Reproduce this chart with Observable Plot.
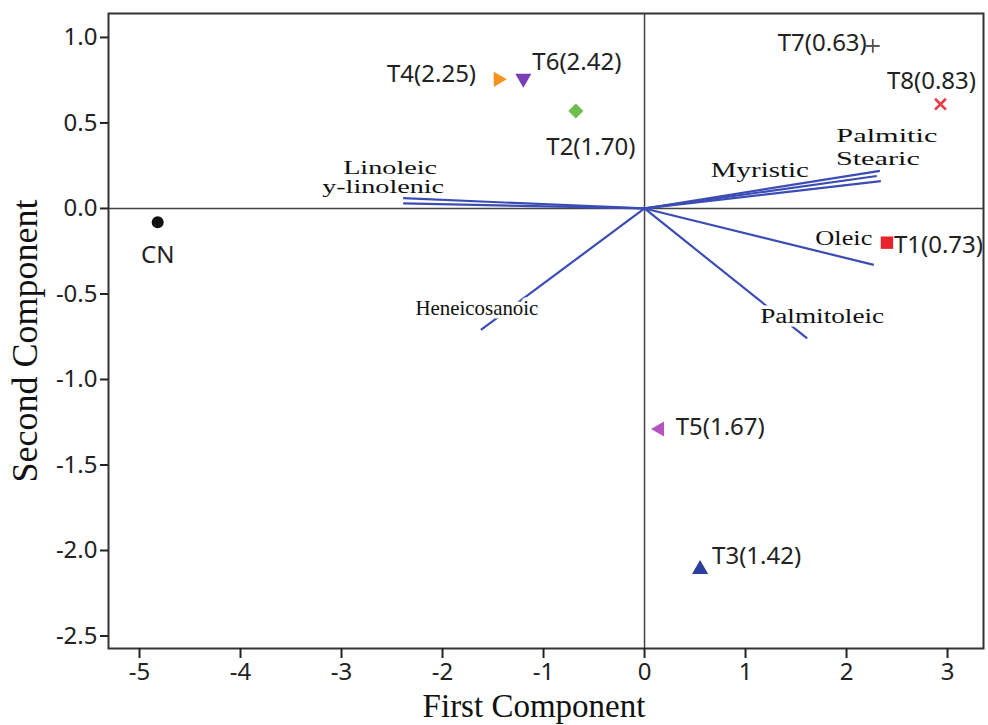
<!DOCTYPE html>
<html><head><meta charset="utf-8">
<script src="https://cdn.jsdelivr.net/npm/d3@7"></script>
<script src="https://cdn.jsdelivr.net/npm/@observablehq/plot@0.6"></script>
<style>html,body{margin:0;padding:0;background:#fff} #chart svg{display:block}</style>
</head><body><div id="chart"></div>
<script>
// ---- data ----
const treatments = ["CN","T1","T2","T3","T4","T5","T6","T7","T8"];
const treatmentLabels = ["CN","T1(0.73)","T2(1.70)","T3(1.42)","T4(2.25)","T5(1.67)","T6(2.42)","T7(0.63)","T8(0.83)"];
const scoreX = [-4.82, 2.40, -0.68, 0.55, -1.45, 0.15, -1.20, 2.26, 2.93];
const scoreY = [-0.08, -0.20, 0.57, -2.11, 0.755, -1.29, 0.76, 0.95, 0.61];
const acids = ["Linoleic","y-linolenic","Myristic","Palmitic","Stearic","Oleic","Palmitoleic","Heneicosanoic"];
const loadingX = [-2.39, -2.39, 2.30, 2.33, 2.34, 2.27, 1.61, -1.62];
const loadingY = [0.06, 0.03, 0.19, 0.22, 0.16, -0.33, -0.76, -0.71];
const xTicks = [-5,-4,-3,-2,-1,0,1,2,3];
const yTicks = [1.0,0.5,0.0,-0.5,-1.0,-1.5,-2.0,-2.5];

// ---- styles / layout (not data) ----
const pointStyle = {
  CN: {symbol:"circle",   fill:"#111",    r:6},
  T1: {symbol:"square",   fill:"#e8232b", r:7},
  T2: {symbol:"diamond2", fill:"#6cbf4c", r:6.8},
  T3: {symbol:"triangle", fill:"#2b3f9f", r:6},
  T4: {symbol:"triangle", fill:"#f6921e", r:5.6, rotate:90},
  T5: {symbol:"triangle", fill:"#b455bf", r:5.6, rotate:-90},
  T6: {symbol:"triangle", fill:"#7a3fb5", r:6,   rotate:180},
  T7: {symbol:"plus",  stroke:"#555",    r:4.5, strokeWidth:1.8},
  T8: {symbol:"times", stroke:"#ec3b4b", r:5,   strokeWidth:2.6}
};
const pointLabelLayout = {
  CN: {anchor:"middle", dx:0,   dy:33},
  T1: {anchor:"start",  dx:7,   dy:3},
  T2: {anchor:"middle", dx:15,  dy:36},
  T3: {anchor:"start",  dx:12,  dy:-13},
  T4: {anchor:"end",    dx:-22, dy:-5},
  T5: {anchor:"start",  dx:16,  dy:-2},
  T6: {anchor:"start",  dx:9,   dy:-16},
  T7: {anchor:"end",    dx:-6,  dy:-3},
  T8: {anchor:"middle", dx:-9,  dy:-23}
};
const vecLabelLayout = {
  "Linoleic":      {dx:-13,  dy:-30, w:94,  size:19},
  "y-linolenic":   {dx:-20,  dy:-16, w:122, size:19},
  "Myristic":      {dx:-117, dy:-5,  w:98,  size:20},
  "Palmitic":      {dx:7,    dy:-35, w:101, size:19},
  "Stearic":       {dx:-3,   dy:-22, w:84,  size:19},
  "Oleic":         {dx:-30,  dy:-26, w:57,  size:20},
  "Palmitoleic":   {dx:15,   dy:-22, w:124, size:20, halo:true},
  "Heneicosanoic": {dx:-4,   dy:-22, w:123, size:21, halo:true}
};

const points = treatments.map((t,i)=>({id:t, label:treatmentLabels[i], x:scoreX[i], y:scoreY[i]}));
const vectors = acids.map((a,i)=>({name:a, x:loadingX[i], y:loadingY[i]}));

const serif = "'Liberation Serif', 'Times New Roman', serif";
const sans = "'Noto Sans', 'DejaVu Sans', sans-serif";

const marks = [
  Plot.ruleX([0], {stroke:"#444", strokeWidth:1.5}),
  Plot.ruleY([0], {stroke:"#444", strokeWidth:1.5}),
  Plot.link(vectors, {x1:0, y1:0, x2:"x", y2:"y", stroke:"#3b4db5", strokeWidth:2.2})
];
for (const v of vectors) {
  const L = vecLabelLayout[v.name];
  const o = {x:"x", y:"y", text:"name", dx:L.dx, dy:L.dy,
    textAnchor:"middle", lineAnchor:"middle", fontFamily:serif, fontSize:L.size, fill:"#111"};
  if (L.halo) { o.stroke = "white"; o.strokeWidth = 7; }
  marks.push(Plot.text([v], o));
}
for (const p of points) {
  const s = pointStyle[p.id];
  const opts = {x:"x", y:"y", symbol:s.symbol, r:s.r};
  if (s.rotate) opts.rotate = s.rotate;
  if (s.fill) { opts.fill = s.fill; opts.stroke = "none"; }
  else { opts.stroke = s.stroke; opts.fill = "none"; opts.strokeWidth = s.strokeWidth; }
  marks.push(Plot.dot([p], opts));
  const L = pointLabelLayout[p.id];
  marks.push(Plot.text([p], {x:"x", y:"y", text:"label", dx:L.dx, dy:L.dy,
    textAnchor:L.anchor, lineAnchor:"middle", fontFamily:sans, fontSize:24, fill:"#222"}));
}
marks.push(
  Plot.frame({stroke:"#333", strokeWidth:2}),
  Plot.axisX(xTicks, {tickSize:10, tickPadding:4, tickFormat:d=>String(d), label:null,
    fontFamily:sans, fontSize:24, color:"#222", strokeWidth:2}),
  Plot.axisY(yTicks, {tickSize:8, tickPadding:3, tickFormat:d=>d.toFixed(1), label:null,
    fontFamily:sans, fontSize:24, color:"#222", strokeWidth:2}),
  Plot.text(["First Component"], {text:d=>d, frameAnchor:"bottom", dx:-12, dy:58,
    textAnchor:"middle", lineAnchor:"middle", fontFamily:serif, fontSize:33, fill:"#111"}),
  Plot.text(["Second Component"], {text:d=>d, frameAnchor:"left", rotate:-90, dx:-83, dy:10,
    textAnchor:"middle", lineAnchor:"middle", fontFamily:serif, fontSize:36, fill:"#111"})
);

const chart = Plot.plot({
  width: 988, height: 725,
  marginLeft: 108, marginRight: 5, marginTop: 13, marginBottom: 77,
  style: {fontFamily: sans, fontSize: "24px", color: "#222", background: "#fff"},
  x: {domain: [-5.307, 3.356]},
  y: {domain: [-2.573, 1.140]},
  marks
});
// stretch the vector labels to the widths seen in the reference
chart.querySelectorAll("text").forEach(t => {
  const L = vecLabelLayout[t.textContent];
  if (L) { t.setAttribute("textLength", L.w); t.setAttribute("lengthAdjust", "spacingAndGlyphs"); }
});
document.getElementById("chart").appendChild(chart);
</script>
</body></html>
